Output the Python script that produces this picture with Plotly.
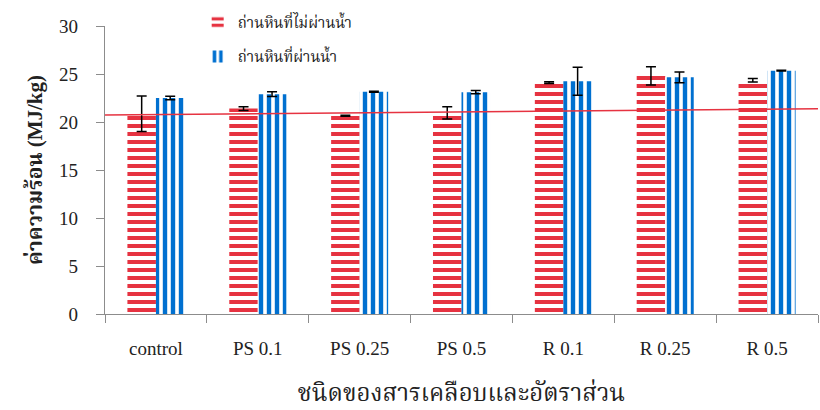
import plotly.graph_objects as go

# Coating type and ratio (x categories)
categories = ["control", "PS 0.1", "PS 0.25", "PS 0.5", "R 0.1", "R 0.25", "R 0.5"]

# Heating value (MJ/kg) of coal, not passed through water
untreated = [20.85, 21.4, 20.65, 20.95, 24.1, 24.8, 24.35]
untreated_err = [1.85, 0.2, 0.05, 0.65, 0.08, 0.95, 0.19]

# Heating value (MJ/kg) of coal, passed through water
treated = [22.5, 22.9, 23.15, 23.1, 24.24, 24.65, 25.35]
treated_err = [0.17, 0.24, 0.05, 0.17, 1.46, 0.57, 0.05]

# Reference line level at the left and right ends of the plot
ref_line = [20.72, 21.38]

RED = "#e63341"
BLUE = "#0070d0"
AXIS = "#8c8c8c"
SERIF = "Liberation Serif, Times New Roman, Noto Serif Thai, Noto Sans Thai, serif"

fig = go.Figure()

fig.add_trace(go.Bar(
    x=categories, y=untreated, name="ถ่านหินที่ไม่ผ่านน้ำ",
    legendgroup="a",
    marker=dict(color=RED, line=dict(width=0),
                pattern=dict(shape="-", size=8, solidity=0.5, fgcolor=RED,
                             bgcolor="white", fgopacity=1)),
    error_y=dict(type="data", array=untreated_err, color="black", thickness=1.5, width=5),
))
fig.add_trace(go.Bar(
    x=categories, y=treated, name="ถ่านหินที่ผ่านน้ำ",
    legendgroup="b",
    marker=dict(color=BLUE, line=dict(width=0),
                pattern=dict(shape="|", size=8, solidity=0.55, fgcolor=BLUE,
                             bgcolor="white", fgopacity=1)),
    error_y=dict(type="data", array=treated_err, color="black", thickness=1.5, width=5),
))

fig.add_shape(type="line", xref="paper", yref="y",
              x0=0, x1=1, y0=ref_line[0], y1=ref_line[1],
              line=dict(color=RED, width=1.5))

fig.update_layout(
    width=820, height=410,
    margin=dict(l=105, r=2, t=26, b=96),
    paper_bgcolor="white", plot_bgcolor="white",
    barmode="group", bargap=0.44, bargroupgap=0,
    font=dict(family=SERIF, color="#222"),
    showlegend=True,
    legend=dict(x=0.13, y=1.07, xanchor="left", yanchor="top",
                bgcolor="rgba(0,0,0,0)", tracegroupgap=12,
                font=dict(size=15, family=SERIF)),
    xaxis=dict(
        showline=True, linecolor=AXIS, linewidth=1.2,
        ticks="outside", tickson="boundaries", ticklen=8, tickcolor=AXIS,
        tickfont=dict(size=19, family=SERIF), ticklabelstandoff=17,
        title=dict(text="ชนิดของสารเคลือบและอัตราส่วน", font=dict(size=24, family=SERIF), standoff=26),
        showgrid=False, zeroline=False,
    ),
    yaxis=dict(
        range=[0, 30], dtick=5,
        showline=True, linecolor=AXIS, linewidth=1.2,
        ticks="outside", ticklen=8, tickcolor=AXIS,
        tickfont=dict(size=19, family=SERIF), ticklabelstandoff=14,
        title=dict(text="<b>ค่าความร้อน (MJ/kg)</b>", font=dict(size=21, family=SERIF), standoff=10),
        showgrid=False, zeroline=False,
    ),
)

fig.write_html("out.html")
